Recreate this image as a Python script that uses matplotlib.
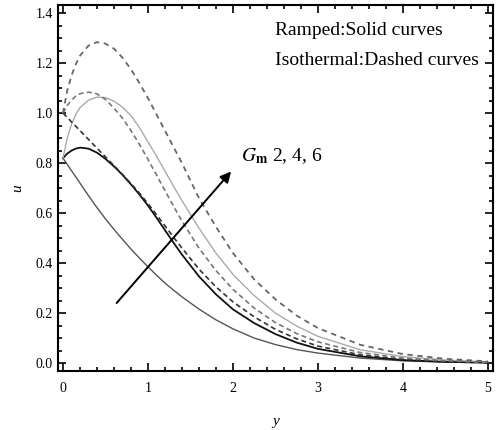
import matplotlib.pyplot as plt
from matplotlib.ticker import MultipleLocator

plt.rcParams['font.family'] = ['Liberation Serif', 'DejaVu Serif']
plt.rcParams['mathtext.fontset'] = 'stix'

y = [0, 0.05, 0.1, 0.15, 0.2, 0.3, 0.4, 0.5, 0.6, 0.7, 0.8, 0.9, 1.0, 1.1,
     1.2, 1.3, 1.4, 1.6, 1.8, 2.0, 2.25, 2.5, 2.75, 3.0, 3.5, 4.0, 4.5, 5.0]

# ramped wall temperature, Gm = 2, 4, 6
u_ramp_2 = [0.82, 0.795, 0.77, 0.745, 0.72, 0.67, 0.622, 0.577, 0.535, 0.495,
            0.456, 0.42, 0.385, 0.352, 0.32, 0.292, 0.265, 0.216, 0.173,
            0.137, 0.1, 0.074, 0.054, 0.04, 0.02, 0.009, 0.004, 0.001]
u_ramp_4 = [0.82, 0.838, 0.85, 0.858, 0.862, 0.858, 0.842, 0.817, 0.787,
            0.753, 0.715, 0.674, 0.63, 0.582, 0.532, 0.482, 0.434, 0.347,
            0.275, 0.215, 0.16, 0.116, 0.082, 0.057, 0.027, 0.012, 0.005,
            0.002]
u_ramp_6 = [0.82, 0.9, 0.955, 0.995, 1.022, 1.052, 1.064, 1.062, 1.048,
            1.024, 0.99, 0.942, 0.885, 0.828, 0.768, 0.708, 0.65, 0.54, 0.44,
            0.355, 0.27, 0.2, 0.148, 0.107, 0.053, 0.026, 0.012, 0.005]

# isothermal wall, Gm = 2, 4, 6
u_iso_2 = [1.0, 0.983, 0.965, 0.948, 0.93, 0.895, 0.86, 0.825, 0.79, 0.755,
           0.718, 0.68, 0.638, 0.594, 0.549, 0.504, 0.46, 0.376, 0.305,
           0.245, 0.185, 0.135, 0.097, 0.068, 0.033, 0.015, 0.007, 0.003]
u_iso_4 = [1.0, 1.03, 1.052, 1.068, 1.078, 1.084, 1.077, 1.055, 1.02, 0.98,
           0.93, 0.875, 0.815, 0.753, 0.69, 0.628, 0.568, 0.46, 0.37, 0.295,
           0.22, 0.162, 0.118, 0.085, 0.042, 0.02, 0.009, 0.003]
u_iso_6 = [1.0, 1.09, 1.15, 1.195, 1.23, 1.27, 1.284, 1.278, 1.258, 1.222,
           1.175, 1.12, 1.06, 0.995, 0.93, 0.865, 0.8, 0.66, 0.545, 0.44,
           0.335, 0.255, 0.19, 0.14, 0.073, 0.036, 0.017, 0.007]

fig = plt.figure(figsize=(4.99, 4.30), dpi=100)
ax = fig.add_axes([0.116, 0.137, 0.872, 0.851])

ax.plot(y, u_ramp_2, '-', color='#555555', lw=1.0)
ax.plot(y, u_ramp_4, '-', color='#111111', lw=1.3)
ax.plot(y, u_ramp_6, '-', color='#aaaaaa', lw=1.0)
ax.plot(y, u_iso_2, '--', color='#333333', lw=1.2, dashes=(3, 2))
ax.plot(y, u_iso_4, '--', color='#777777', lw=1.2, dashes=(3, 2))
ax.plot(y, u_iso_6, '--', color='#666666', lw=1.3, dashes=(3, 2.5))

ax.annotate('', xy=(2.0, 0.775), xytext=(0.61, 0.232),
            arrowprops=dict(arrowstyle='-|>', color='black', lw=1.4,
                            mutation_scale=16))
ax.text(2.09, 0.83, r'$G_{\mathbf{m}}$ 2, 4, 6', fontsize=14,
        va='center', ha='left')
ax.text(2.5, 1.33, 'Ramped:Solid curves', fontsize=14, va='center')
ax.text(2.5, 1.21, 'Isothermal:Dashed curves', fontsize=14, va='center')

ax.set_xlim(-0.06, 5.06)
ax.set_ylim(-0.032, 1.432)
ax.set_xticks([0, 1, 2, 3, 4, 5])
ax.set_yticks([0.0, 0.2, 0.4, 0.6, 0.8, 1.0, 1.2, 1.4])
ax.set_yticklabels(['0.0', '0.2', '0.4', '0.6', '0.8', '1.0', '1.2', '1.4'])
ax.xaxis.set_minor_locator(MultipleLocator(0.2))
ax.yaxis.set_minor_locator(MultipleLocator(0.05))
ax.tick_params(which='both', direction='in', top=True, right=True,
               labelsize=10, width=1.2)
ax.tick_params(which='major', length=6)
ax.tick_params(which='minor', length=3)
ax.tick_params(axis='x', pad=8)
for s in ax.spines.values():
    s.set_linewidth(1.5)

ax.set_xlabel('y', fontsize=11, style='italic', labelpad=14)
ax.set_ylabel('u', fontsize=11, style='italic', labelpad=8)

fig.savefig('out.png', dpi=100)
